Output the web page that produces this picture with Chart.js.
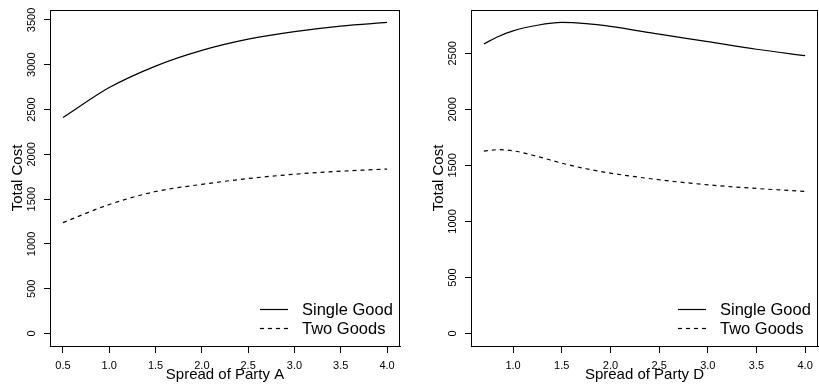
<!DOCTYPE html>
<html>
<head>
<meta charset="utf-8">
<script src="https://cdn.jsdelivr.net/npm/chart.js@4.4.1/dist/chart.umd.min.js"></script>
<style>
    body { margin: 0; background: #fff; }
    #graficoA { position: absolute; left: 0; top: 0; }
    #graficoD { position: absolute; left: 410px; top: 0; }
</style>
</head>
<body>
<canvas id="graficoA" width="410" height="389"></canvas>
<canvas id="graficoD" width="409" height="389"></canvas>
<script>
// valores
const spreadA = [0.5, 1.0, 1.5, 2.0, 2.5, 3.0, 3.5, 4.0];
const singleA = [2410, 2745, 2985, 3160, 3285, 3370, 3432, 3472];
const twoA = [1238, 1440, 1585, 1665, 1730, 1778, 1812, 1836];

const spreadD = [0.7, 0.85, 1.0, 1.25, 1.5, 1.75, 2.0, 2.5, 3.0, 3.5, 4.0];
const singleD = [2583, 2650, 2700, 2750, 2775, 2765, 2740, 2670, 2604, 2536, 2479];
const twoD = [1628, 1640, 1630, 1580, 1520, 1470, 1431, 1372, 1327, 1294, 1268];

const xTicksA = [0.5, 1.0, 1.5, 2.0, 2.5, 3.0, 3.5, 4.0];
const xTicksD = [1.0, 1.5, 2.0, 2.5, 3.0, 3.5, 4.0];
const yTicksA = [0, 500, 1000, 1500, 2000, 2500, 3000, 3500];
const yTicksD = [0, 500, 1000, 1500, 2000, 2500];

const legendas = ['Single Good', 'Two Goods'];

const fonte = '"Liberation Sans", Arial, Helvetica, sans-serif';


// limites no estilo do R (4% de folga)
function limites(min, max) {
    const folga = (max - min) * 0.04;
    return [min - folga, max + folga];
}

function pontos(xs, ys) {
    return xs.map((x, i) => ({ x: x, y: ys[i] }));
}

const moldura = {
    id: 'moldura',
    afterDraw(chart, args, opts) {
        const ctx = chart.ctx;
        const area = chart.chartArea;
        const escalaY = chart.scales.y;

        ctx.save();
        ctx.strokeStyle = '#000';
        ctx.fillStyle = '#000';
        ctx.lineWidth = 1;
        ctx.strokeRect(Math.round(area.left) + 0.5, Math.round(area.top) + 0.5,
            Math.round(area.right - area.left) - 1, Math.round(area.bottom - area.top));

        // rotulos do eixo y, em pe como no R
        ctx.font = '11px ' + fonte;
        ctx.textAlign = 'center';
        ctx.textBaseline = 'alphabetic';
        escalaY.ticks.forEach((t) => {
            ctx.save();
            ctx.translate(area.left - 15, escalaY.getPixelForValue(t.value));
            ctx.rotate(-Math.PI / 2);
            ctx.fillText(String(t.value), 0, 0);
            ctx.restore();
        });

        // titulos
        ctx.font = '15px ' + fonte;
        ctx.fillText(opts.tituloX, (area.left + area.right) / 2, 379);
        ctx.save();
        ctx.translate(area.left - 28.5, (area.top + area.bottom) / 2);
        ctx.rotate(-Math.PI / 2);
        ctx.fillText(opts.tituloY, 0, 0);
        ctx.restore();

        // legenda no canto inferior direito
        ctx.font = '16.5px ' + fonte;
        ctx.textAlign = 'left';
        ctx.textBaseline = 'middle';
        chart.data.datasets.forEach((ds, i) => {
            const y = area.bottom - 36.5 + i * 19;
            ctx.beginPath();
            ctx.lineWidth = ds.borderWidth;
            ctx.setLineDash(ds.borderDash || []);
            ctx.moveTo(area.right - 140, y);
            ctx.lineTo(area.right - 112, y);
            ctx.stroke();
            ctx.setLineDash([]);
            ctx.fillText(ds.label, area.right - 98, y + 1);
        });
        ctx.restore();
    }
};

function criaGrafico(id, xs, serie1, serie2, ticksX, ticksY, tituloX, larguraY, folgaDireita) {
    const limX = limites(Math.min(...xs), Math.max(...xs));
    const limY = limites(0, Math.max(...serie1));

    return new Chart(document.getElementById(id), {
        type: 'line',
        data: {
            datasets: [{
                label: legendas[0],
                data: pontos(xs, serie1),
                borderColor: '#000',
                borderWidth: 1.2,
                pointRadius: 0,
                cubicInterpolationMode: 'monotone',
                fill: false
            }, {
                label: legendas[1],
                data: pontos(xs, serie2),
                borderColor: '#000',
                borderWidth: 1.2,
                borderDash: [4, 4],
                pointRadius: 0,
                cubicInterpolationMode: 'monotone',
                fill: false
            }]
        },
        plugins: [moldura],
        options: {
            responsive: false,
            animation: false,
            devicePixelRatio: 1,
            layout: { padding: { left: 0, right: folgaDireita, top: 10, bottom: 0 } },
            plugins: {
                legend: { display: false },
                tooltip: { enabled: false },
                moldura: { tituloX: tituloX, tituloY: 'Total Cost' }
            },
            scales: {
                x: {
                    type: 'linear',
                    min: limX[0],
                    max: limX[1],
                    afterBuildTicks: (s) => { s.ticks = ticksX.map((v) => ({ value: v })); },
                    afterFit: (s) => { s.height = 43; },
                    ticks: {
                        callback: (v) => v.toFixed(1),
                        font: { family: fonte, size: 11 },
                        color: '#000',
                        padding: 6,
                        maxRotation: 0
                    },
                    grid: { drawOnChartArea: false, drawTicks: true, tickLength: 7, color: '#000' },
                    border: { display: true, color: '#000' }
                },
                y: {
                    type: 'linear',
                    min: limY[0],
                    max: limY[1],
                    afterBuildTicks: (s) => { s.ticks = ticksY.map((v) => ({ value: v })); },
                    afterFit: (s) => { s.width = larguraY; },
                    ticks: { display: false },
                    grid: { drawOnChartArea: false, drawTicks: true, tickLength: 6, color: '#000' },
                    border: { display: true, color: '#000' }
                }
            }
        }
    });
}

const graficoA = criaGrafico('graficoA', spreadA, singleA, twoA, xTicksA, yTicksA, 'Spread of Party A', 50, 10);
const graficoD = criaGrafico('graficoD', spreadD, singleD, twoD, xTicksD, yTicksD, 'Spread of Party D', 61, 1);
</script>
</body>
</html>
